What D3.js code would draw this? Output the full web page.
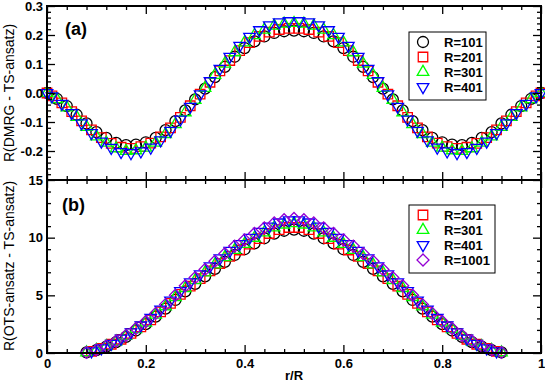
<!DOCTYPE html>
<html>
<head>
<meta charset="utf-8">
<script src="https://cdn.jsdelivr.net/npm/d3@7"></script>
<style>
  body { margin: 0; background: #fff; }
  text { font-family: "Liberation Sans", Arial, Helvetica, sans-serif; }
</style>
</head>
<body>
<div id="chart"></div>
<script>
// ---- data ----
// panel (a): r/R positions and R(DMRG - TS-ansatz)
const rTopEven = [0, 0.02, 0.04, 0.06, 0.08, 0.10, 0.12, 0.14, 0.16, 0.18, 0.20, 0.22, 0.24, 0.26, 0.28, 0.30,
  0.32, 0.34, 0.36, 0.38, 0.40, 0.42, 0.44, 0.46, 0.48, 0.50, 0.52, 0.54, 0.56, 0.58, 0.60, 0.62, 0.64,
  0.66, 0.68, 0.70, 0.72, 0.74, 0.76, 0.78, 0.80, 0.82, 0.84, 0.86, 0.88, 0.90, 0.92, 0.94, 0.96, 0.98, 1.0]
const rTopOdd = [0, 0.01, 0.03, 0.05, 0.07, 0.09, 0.11, 0.13, 0.15, 0.17, 0.19, 0.21, 0.23, 0.25, 0.27, 0.29,
  0.31, 0.33, 0.35, 0.37, 0.39, 0.41, 0.43, 0.45, 0.47, 0.49, 0.51, 0.53, 0.55, 0.57, 0.59, 0.61, 0.63,
  0.65, 0.67, 0.69, 0.71, 0.73, 0.75, 0.77, 0.79, 0.81, 0.83, 0.85, 0.87, 0.89, 0.91, 0.93, 0.95, 0.97, 0.99, 1.0]
const topR101 = [0, -0.020, -0.045, -0.075, -0.105, -0.135, -0.155, -0.172, -0.180, -0.178, -0.170, -0.155, -0.128,
  -0.097, -0.060, -0.022, 0.015, 0.055, 0.090, 0.125, 0.155, 0.178, 0.195, 0.207, 0.213, 0.215,
  0.213, 0.207, 0.195, 0.178, 0.155, 0.125, 0.090, 0.055, 0.015, -0.022, -0.060, -0.097, -0.128,
  -0.155, -0.170, -0.178, -0.180, -0.172, -0.155, -0.135, -0.105, -0.075, -0.045, -0.020, 0]
const topR201 = [0, -0.010, -0.034, -0.064, -0.096, -0.127, -0.154, -0.174, -0.187, -0.191, -0.185, -0.173, -0.151,
  -0.120, -0.084, -0.044, -0.004, 0.037, 0.076, 0.112, 0.146, 0.174, 0.195, 0.210, 0.219, 0.223,
  0.223, 0.219, 0.210, 0.195, 0.174, 0.146, 0.112, 0.076, 0.037, -0.004, -0.044, -0.084, -0.120,
  -0.151, -0.173, -0.185, -0.191, -0.187, -0.174, -0.154, -0.127, -0.096, -0.064, -0.034, -0.010, 0]
const topR301 = [0, -0.022, -0.050, -0.083, -0.117, -0.150, -0.172, -0.191, -0.200, -0.198, -0.189, -0.172, -0.142,
  -0.108, -0.067, -0.024, 0.017, 0.062, 0.101, 0.140, 0.174, 0.199, 0.218, 0.232, 0.239, 0.241,
  0.239, 0.232, 0.218, 0.199, 0.174, 0.140, 0.101, 0.062, 0.017, -0.024, -0.067, -0.108, -0.142,
  -0.172, -0.189, -0.198, -0.200, -0.191, -0.172, -0.150, -0.117, -0.083, -0.050, -0.022, 0]
const topR401 = [0, -0.011, -0.037, -0.069, -0.104, -0.138, -0.167, -0.189, -0.203, -0.207, -0.201, -0.188, -0.163,
  -0.130, -0.091, -0.047, -0.004, 0.041, 0.084, 0.125, 0.163, 0.194, 0.217, 0.234, 0.244, 0.248,
  0.248, 0.244, 0.234, 0.217, 0.194, 0.163, 0.125, 0.084, 0.041, -0.004, -0.047, -0.091, -0.130,
  -0.163, -0.188, -0.201, -0.207, -0.203, -0.189, -0.167, -0.138, -0.104, -0.069, -0.037, -0.011, 0]

// panel (b): r/R positions and R(OTS-ansatz - TS-ansatz)
const rBotEven = [0.08, 0.10, 0.12, 0.14, 0.16, 0.18, 0.20, 0.22, 0.24, 0.26, 0.28, 0.30, 0.32, 0.34, 0.36, 0.38,
  0.40, 0.42, 0.44, 0.46, 0.48, 0.50, 0.52, 0.54, 0.56, 0.58, 0.60, 0.62, 0.64, 0.66, 0.68, 0.70, 0.72,
  0.74, 0.76, 0.78, 0.80, 0.82, 0.84, 0.86, 0.88, 0.90, 0.92]
const rBotOdd = [0.09, 0.11, 0.13, 0.15, 0.17, 0.19, 0.21, 0.23, 0.25, 0.27, 0.29, 0.31, 0.33, 0.35, 0.37, 0.39,
  0.41, 0.43, 0.45, 0.47, 0.49, 0.51, 0.53, 0.55, 0.57, 0.59, 0.61, 0.63, 0.65, 0.67, 0.69, 0.71, 0.73,
  0.75, 0.77, 0.79, 0.81, 0.83, 0.85, 0.87, 0.89, 0.91]
const botR101 = [0.05, 0.25, 0.55, 0.95, 1.40, 1.95, 2.50, 3.15, 3.85, 4.60, 5.35, 6.00, 6.65, 7.30, 7.90, 8.50,
  9.00, 9.50, 9.95, 10.35, 10.60, 10.70, 10.60, 10.35, 9.95, 9.50, 9.00, 8.50, 7.90, 7.30, 6.65, 6.00,
  5.35, 4.60, 3.85, 3.15, 2.50, 1.95, 1.40, 0.95, 0.55, 0.25, 0.05]
const botR201 = [0.15, 0.40, 0.76, 1.19, 1.70, 2.27, 2.88, 3.57, 4.31, 5.08, 5.79, 6.45, 7.12, 7.76, 8.37, 8.93,
  9.44, 9.92, 10.36, 10.70, 10.88, 10.88, 10.70, 10.36, 9.92, 9.44, 8.93, 8.37, 7.76, 7.12, 6.45, 5.79,
  5.08, 4.31, 3.57, 2.88, 2.27, 1.70, 1.19, 0.76, 0.40, 0.15]
const botR301 = [0.05, 0.26, 0.58, 1.00, 1.47, 2.05, 2.63, 3.31, 4.04, 4.83, 5.62, 6.30, 6.98, 7.67, 8.30, 8.93,
  9.45, 9.98, 10.45, 10.87, 11.13, 11.24, 11.13, 10.87, 10.45, 9.98, 9.45, 8.93, 8.30, 7.67, 6.98, 6.30,
  5.62, 4.83, 4.04, 3.31, 2.63, 2.05, 1.47, 1.00, 0.58, 0.26, 0.05]
const botR401 = [0.15, 0.42, 0.80, 1.26, 1.80, 2.40, 3.05, 3.78, 4.56, 5.38, 6.14, 6.83, 7.53, 8.21, 8.86, 9.45,
  10.00, 10.51, 10.97, 11.33, 11.52, 11.52, 11.33, 10.97, 10.51, 10.00, 9.45, 8.86, 8.21, 7.53, 6.83, 6.14,
  5.38, 4.56, 3.78, 3.05, 2.40, 1.80, 1.26, 0.80, 0.42, 0.15]
const botR1001 = [0.05, 0.27, 0.60, 1.04, 1.53, 2.13, 2.73, 3.43, 4.20, 5.01, 5.83, 6.54, 7.25, 7.96, 8.61, 9.27,
  9.81, 10.36, 10.85, 11.28, 11.55, 11.66, 11.55, 11.28, 10.85, 10.36, 9.81, 9.27, 8.61, 7.96, 7.25, 6.54,
  5.83, 5.01, 4.20, 3.43, 2.73, 2.13, 1.53, 1.04, 0.60, 0.27, 0.05]

const xTicks = [0, 0.2, 0.4, 0.6, 0.8, 1]
const xTickLabels = ['0', '0.2', '0.4', '0.6', '0.8', '1']
const topTicks = [0.3, 0.2, 0.1, 0, -0.1, -0.2]
const topTickLabels = ['0.3', '0.2', '0.1', '0.0', '-0.1', '-0.2']
const botTicks = [0, 5, 10, 15]
const botTickLabels = ['0', '5', '10', '15']

// ---- layout ----
const W = 545, H = 386
const left = 47, right = 541
const topPanel = { y0: 6, y1: 180 }
const botPanel = { y0: 180, y1: 353 }

const svg = d3.select('#chart').append('svg')
  .attr('width', W)
  .attr('height', H)

const x = d3.scaleLinear().domain([0, 1]).range([left, right])
const yTop = d3.scaleLinear().domain([-0.3, 0.3]).range([topPanel.y1, topPanel.y0])
const yBot = d3.scaleLinear().domain([0, 15]).range([botPanel.y1, botPanel.y0])

const xMinor = d3.range(0, 1.0001, 0.04).filter(v => Math.abs(v / 0.2 - Math.round(v / 0.2)) > 1e-6)

// symbols
const sym = {
  circle: d3.symbol().type(d3.symbolCircle).size(95)(),
  square: d3.symbol().type(d3.symbolSquare).size(90)(),
  triangle: d3.symbol().type(d3.symbolTriangle).size(58)(),
  diamond: d3.symbol().type(d3.symbolSquare).size(72)()
}
const rot = { circle: 0, square: 0, triangleUp: 0, triangleDown: 180, diamond: 45 }
function symPath(shape) {
  return shape === 'triangleUp' || shape === 'triangleDown' ? sym.triangle : sym[shape]
}

function drawFrame(g, y, y0, y1, yMajor, yLabels, yMinor, showX) {
  // inner ticks on all four sides
  g.append('g').attr('transform', 'translate(' + left + ',0)')
    .call(d3.axisLeft(y).tickValues(yMajor).tickSize(-8).tickPadding(4)
      .tickFormat((d, i) => yLabels[i]))
  g.append('g').attr('transform', 'translate(' + left + ',0)')
    .call(d3.axisLeft(y).tickValues(yMinor).tickSize(-4).tickFormat(''))
  g.append('g').attr('transform', 'translate(' + right + ',0)')
    .call(d3.axisRight(y).tickValues(yMajor).tickSize(-8).tickFormat(''))
  g.append('g').attr('transform', 'translate(' + right + ',0)')
    .call(d3.axisRight(y).tickValues(yMinor).tickSize(-4).tickFormat(''))
  g.append('g').attr('transform', 'translate(0,' + y0 + ')')
    .call(d3.axisTop(x).tickValues(xTicks).tickSize(-8).tickFormat(''))
  g.append('g').attr('transform', 'translate(0,' + y0 + ')')
    .call(d3.axisTop(x).tickValues(xMinor).tickSize(-4).tickFormat(''))
  g.append('g').attr('transform', 'translate(0,' + y1 + ')')
    .call(d3.axisBottom(x).tickValues(xTicks).tickSize(-8).tickPadding(6)
      .tickFormat((d, i) => showX ? xTickLabels[i] : ''))
  g.append('g').attr('transform', 'translate(0,' + y1 + ')')
    .call(d3.axisBottom(x).tickValues(xMinor).tickSize(-4).tickFormat(''))

  g.selectAll('.domain').remove()
  g.selectAll('.tick line').attr('stroke', '#000').attr('stroke-width', 1.3)
  g.selectAll('.tick text')
    .attr('fill', '#000')
    .style('font-size', '13px')
    .style('font-weight', 'bold')

  g.append('rect')
    .attr('x', left).attr('y', y0)
    .attr('width', right - left).attr('height', y1 - y0)
    .attr('fill', 'none').attr('stroke', '#000').attr('stroke-width', 2)
}

function drawSeries(g, y, list) {
  list.forEach(s => {
    g.append('g').selectAll('path')
      .data(s.values)
      .enter().append('path')
      .attr('d', symPath(s.shape))
      .attr('transform', (d, i) => 'translate(' + x(s.r[i]) + ',' + y(d) + ') rotate(' + rot[s.shape] + ')')
      .attr('fill', 'none')
      .attr('stroke', s.color)
      .attr('stroke-width', 1.3)
  })
}

function drawLegend(g, bx, by, bw, list) {
  const rowH = 15
  g.append('rect')
    .attr('x', bx).attr('y', by)
    .attr('width', bw).attr('height', list.length * rowH + 8)
    .attr('fill', '#fff').attr('stroke', '#000').attr('stroke-width', 1)
  list.forEach((s, i) => {
    const cy = by + 10 + i * rowH
    g.append('path')
      .attr('d', symPath(s.shape))
      .attr('transform', 'translate(' + (bx + 14) + ',' + cy + ') rotate(' + rot[s.shape] + ')')
      .attr('fill', 'none').attr('stroke', s.color).attr('stroke-width', 1.3)
    g.append('text')
      .attr('x', bx + 35).attr('y', cy + 5)
      .style('font-size', '13px').style('font-weight', 'bold')
      .text(s.label)
  })
}

const topSeries = [
  { label: 'R=101', r: rTopEven, values: topR101, color: '#000000', shape: 'circle' },
  { label: 'R=201', r: rTopOdd, values: topR201, color: '#ff0000', shape: 'square' },
  { label: 'R=301', r: rTopEven, values: topR301, color: '#00ff00', shape: 'triangleUp' },
  { label: 'R=401', r: rTopOdd, values: topR401, color: '#0000ff', shape: 'triangleDown' }
]
const botSeries = [
  { label: 'R=101', r: rBotEven, values: botR101, color: '#000000', shape: 'circle' },
  { label: 'R=201', r: rBotOdd, values: botR201, color: '#ff0000', shape: 'square' },
  { label: 'R=301', r: rBotEven, values: botR301, color: '#00ff00', shape: 'triangleUp' },
  { label: 'R=401', r: rBotOdd, values: botR401, color: '#0000ff', shape: 'triangleDown' },
  { label: 'R=1001', r: rBotEven, values: botR1001, color: '#9400d3', shape: 'diamond' }
]

// panel (a)
const gTop = svg.append('g')
drawSeries(gTop, yTop, topSeries)
drawFrame(gTop, yTop, topPanel.y0, topPanel.y1, topTicks, topTickLabels,
  d3.range(-0.28, 0.2801, 0.02).filter(v => Math.abs(v * 10 - Math.round(v * 10)) > 1e-6), false)
drawLegend(gTop, 409, 32, 77, topSeries)

// panel (b)
const gBot = svg.append('g')
drawSeries(gBot, yBot, botSeries)
drawFrame(gBot, yBot, botPanel.y0, botPanel.y1, botTicks, botTickLabels,
  d3.range(1, 15, 1).filter(v => v % 5 !== 0), true)
drawLegend(gBot, 409, 205, 86, botSeries.slice(1))

// panel letters
svg.append('text').attr('x', 65).attr('y', 35)
  .style('font-size', '18px').style('font-weight', 'bold').text('(a)')
svg.append('text').attr('x', 62).attr('y', 211)
  .style('font-size', '18px').style('font-weight', 'bold').text('(b)')

// axis titles
svg.append('text')
  .attr('transform', 'translate(14,' + ((topPanel.y0 + topPanel.y1) / 2) + ') rotate(-90)')
  .attr('text-anchor', 'middle')
  .style('font-size', '14px')
  .text('R(DMRG - TS-ansatz)')
svg.append('text')
  .attr('transform', 'translate(14,266) rotate(-90)')
  .attr('text-anchor', 'middle')
  .style('font-size', '14px')
  .text('R(OTS-ansatz - TS-ansatz)')
svg.append('text')
  .attr('x', x(0.5)).attr('y', 380)
  .attr('text-anchor', 'middle')
  .style('font-size', '13px').style('font-weight', 'bold')
  .text('r/R')
</script>
</body>
</html>
